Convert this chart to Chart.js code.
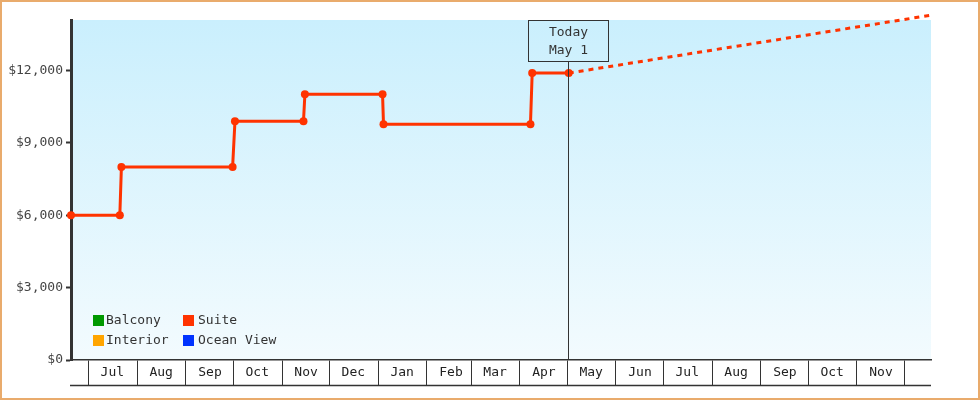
<!DOCTYPE html>
<html>
<head>
<meta charset="utf-8">
<script src="https://cdn.jsdelivr.net/npm/chart.js@4/dist/chart.umd.min.js"></script>
<style>
  html, body { margin: 0; padding: 0; background: #fff; }
  #wrap { position: relative; width: 980px; height: 400px; }
  #chart { position: absolute; left: 0; top: 0; }
  #frame { position: absolute; left: 0; top: 0; width: 980px; height: 400px;
           box-sizing: border-box; border: 2px solid #e9ab6c; pointer-events: none; }
</style>
</head>
<body>
<div id="wrap">
  <canvas id="chart" width="980" height="400"></canvas>
  <div id="frame"></div>
</div>
<script>
// x values are days counted from Jul 1 (first year)
var xMin = -11;
var xMax = 535;
var monthStarts = [0, 31, 62, 92, 123, 153, 184, 215, 243, 274, 304, 335, 365, 396, 427, 457, 488, 518];
var monthLabels = ['Jul', 'Aug', 'Sep', 'Oct', 'Nov', 'Dec', 'Jan', 'Feb', 'Mar', 'Apr', 'May', 'Jun', 'Jul', 'Aug', 'Sep', 'Oct', 'Nov', ''];

var priceTicks = [0, 3000, 6000, 9000, 12000];
var priceMax = 14100;

var seriesNames = ['Balcony', 'Suite', 'Interior', 'Ocean View'];
var seriesColors = ['#009900', '#ff3300', '#ffa500', '#0033ff'];

var suiteDays = [-11, 20, 21, 91.6, 93.1, 136.6, 137.5, 186.8, 187.4, 280.7, 281.8, 305];
var suitePrices = [6000, 6000, 8000, 8000, 9900, 9900, 11020, 11020, 9780, 9780, 11900, 11900];

var projectionDays = [305, 535];
var projectionPrices = [11900, 14300];

var todayDay = 305;
var todayLabel = ['Today', 'May 1'];

function toPoints(xs, ys){
  var out = [];
  for(var i = 0; i < xs.length; i++){
    out.push({x: xs[i], y: ys[i]});
  }
  return out;
}

Chart.defaults.font.family = "'DejaVu Sans Mono', monospace";
Chart.defaults.font.size = 13;

var bgPlugin = {
  id: 'bg',
  beforeDraw: function(chart){
    var a = chart.chartArea, ctx = chart.ctx;
    var g = ctx.createLinearGradient(0, a.top, 0, a.bottom);
    g.addColorStop(0, '#caeffd');
    g.addColorStop(1, '#f3fbfe');
    ctx.save();
    ctx.fillStyle = g;
    ctx.fillRect(a.left, a.top, a.right - a.left, a.bottom - a.top);
    ctx.restore();
  }
};

var extrasPlugin = {
  id: 'extras',
  afterDraw: function(chart){
    var ctx = chart.ctx, a = chart.chartArea;
    var xs = chart.scales.x;
    ctx.save();
    // bottom edge of the month strip
    ctx.strokeStyle = '#333';
    ctx.lineWidth = 1.5;
    ctx.beginPath();
    ctx.moveTo(a.left - 1, xs.top + 25.5);
    ctx.lineTo(a.right, xs.top + 25.5);
    ctx.stroke();

    // today marker
    var tx = Math.round(xs.getPixelForValue(todayDay)) - 0.5;
    var boxW = 80, boxH = 41, boxTop = a.top + 0.5;
    ctx.lineWidth = 1;
    ctx.beginPath();
    ctx.moveTo(tx, boxTop + boxH);
    ctx.lineTo(tx, a.bottom);
    ctx.stroke();
    ctx.strokeRect(tx - boxW / 2, boxTop, boxW, boxH);
    ctx.fillStyle = '#333';
    ctx.font = "13px 'DejaVu Sans Mono'";
    ctx.textAlign = 'center';
    ctx.textBaseline = 'middle';
    ctx.fillText(todayLabel[0], tx, a.top + 13);
    ctx.fillText(todayLabel[1], tx, a.top + 31);

    // legend, two columns in the lower left of the plot
    var colX = [a.left + 22, a.left + 112];
    var rowY = [a.bottom - 39.5, a.bottom - 19.5];
    ctx.textAlign = 'left';
    var n = 0;
    chart.data.datasets.forEach(function(ds){
      if(ds.inLegend === false) return;
      var bx = colX[n % 2], by = rowY[Math.floor(n / 2)];
      ctx.fillStyle = ds.borderColor;
      ctx.fillRect(bx, by - 5.5, 11, 11);
      ctx.fillStyle = '#333';
      ctx.fillText(ds.label, bx + 13 + (n % 2) * 2, by + 0.5);
      n++;
    });
    ctx.restore();
  }
};

var datasets = [];
for(var i = 0; i < seriesNames.length; i++){
  var isSuite = seriesNames[i] === 'Suite';
  datasets.push({
    label: seriesNames[i],
    data: isSuite ? toPoints(suiteDays, suitePrices) : [],
    borderColor: seriesColors[i],
    backgroundColor: seriesColors[i],
    borderWidth: 3,
    pointRadius: 4,
    pointBorderWidth: 0,
    pointBackgroundColor: seriesColors[i],
    tension: 0,
    fill: false,
    clip: false
  });
}
datasets.push({
  label: 'Suite (projected)',
  inLegend: false,
  data: toPoints(projectionDays, projectionPrices),
  borderColor: '#ff3300',
  borderWidth: 3,
  borderDash: [5, 5],
  pointRadius: 0,
  tension: 0,
  fill: false,
  clip: false
});

new Chart(document.getElementById('chart'), {
  type: 'line',
  data: { datasets: datasets },
  plugins: [bgPlugin, extrasPlugin],
  options: {
    responsive: false,
    animation: false,
    layout: { padding: { left: 0, top: 20, right: 49, bottom: 15 } },
    plugins: {
      legend: { display: false },
      tooltip: { enabled: false }
    },
    scales: {
      x: {
        type: 'linear',
        min: xMin,
        max: xMax,
        afterBuildTicks: function(s){
          s.ticks = monthStarts.map(function(v){ return {value: v}; });
        },
        afterFit: function(s){ s.height = 25; },
        grid: {
          drawOnChartArea: false,
          drawTicks: true,
          tickLength: 25,
          color: '#333',
          lineWidth: 1
        },
        border: { display: true, color: '#333', width: 1.5 },
        ticks: {
          autoSkip: false,
          maxRotation: 0,
          minRotation: 0,
          labelOffset: 24,
          padding: -20,
          color: '#222',
          callback: function(v){
            var k = monthStarts.indexOf(v);
            return k < 0 ? '' : monthLabels[k];
          }
        }
      },
      y: {
        min: 0,
        max: priceMax,
        afterBuildTicks: function(s){
          s.ticks = priceTicks.map(function(v){ return {value: v}; });
        },
        afterFit: function(s){ s.width = 71; },
        grid: {
          drawOnChartArea: false,
          drawTicks: true,
          tickLength: 5,
          tickWidth: 2,
          tickColor: '#333'
        },
        border: { display: true, color: '#333', width: 3 },
        ticks: {
          padding: 3,
          color: '#444',
          callback: function(v){ return '$' + v.toLocaleString('en-US'); }
        }
      }
    }
  }
});
</script>
</body>
</html>
